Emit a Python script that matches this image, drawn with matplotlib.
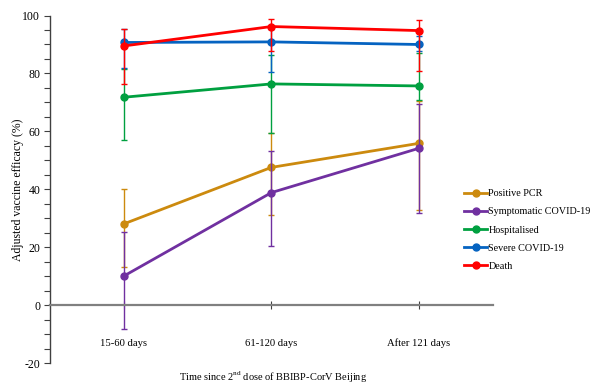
import numpy as np
import matplotlib
matplotlib.use("Agg")
import matplotlib.pyplot as plt
from matplotlib.ticker import MultipleLocator

plt.rcParams["font.family"] = ["Liberation Serif", "DejaVu Serif"]
plt.rcParams["mathtext.fontset"] = "custom"
plt.rcParams["mathtext.rm"] = "Liberation Serif"
plt.rcParams["axes.unicode_minus"] = False

periods = ["15-60 days", "61-120 days", "After 121 days"]

pcr = [28.1, 47.6, 55.9]
pcr_low = [13.2, 31.0, 33.0]
pcr_high = [40.1, 59.5, 70.6]

symptomatic = [10.1, 38.9, 54.2]
symptomatic_low = [-8.2, 20.3, 31.8]
symptomatic_high = [25.4, 53.1, 69.4]

hospitalised = [71.8, 76.4, 75.7]
hospitalised_low = [57.0, 59.4, 71.0]
hospitalised_high = [81.5, 86.4, 87.1]

severe = [90.7, 90.9, 90.0]
severe_low = [81.8, 80.4, 87.6]
severe_high = [95.3, 95.5, 93.0]

death = [89.5, 96.2, 94.8]
death_low = [76.5, 87.9, 80.9]
death_high = [95.4, 98.8, 98.6]

series = [
    ("Positive PCR", pcr, pcr_low, pcr_high, "#CC8A0E"),
    ("Symptomatic COVID-19", symptomatic, symptomatic_low, symptomatic_high, "#7030A0"),
    ("Hospitalised", hospitalised, hospitalised_low, hospitalised_high, "#00A040"),
    ("Severe COVID-19", severe, severe_low, severe_high, "#0563C1"),
    ("Death", death, death_low, death_high, "#FF0000"),
]

fig = plt.figure(figsize=(5.96, 3.85), dpi=100)
ax = fig.add_axes([0.0839, 0.0564, 0.743, 0.9033])

x = np.arange(len(periods))
handles = []
for name, vals, lo, hi, col in series:
    vals = np.array(vals)
    err = [vals - np.array(lo), np.array(hi) - vals]
    ax.errorbar(x, vals, yerr=err, fmt="none", ecolor=col, elinewidth=1.0,
                capsize=2.5, capthick=1.0)
    h, = ax.plot(x, vals, "-o", color=col, linewidth=2.0, markersize=5,
                 label=name)
    handles.append(h)

ax.set_xlim(-0.5, 2.5)
ax.set_ylim(-20, 100)
ax.set_xticks(x)
ax.set_xticklabels(periods)
ax.yaxis.set_major_locator(MultipleLocator(20))
ax.yaxis.set_minor_locator(MultipleLocator(5))
ax.tick_params(axis="y", which="both", direction="out", length=4, width=0.8,
               color="#404040", labelsize=8.5, pad=3)
ax.tick_params(axis="x", direction="inout", length=6, width=0.8,
               color="#404040", labelsize=7.7, pad=21)

for s in ["top", "right"]:
    ax.spines[s].set_visible(False)
ax.spines["left"].set_color("#404040")
ax.spines["left"].set_linewidth(1.0)
ax.spines["bottom"].set_position(("data", 0))
ax.spines["bottom"].set_color("#808080")
ax.spines["bottom"].set_linewidth(1.6)

ax.set_ylabel("Adjusted vaccine efficacy (%)", fontsize=8.5, labelpad=-1)
fig.text(0.458, 0.02, r"Time since 2$^{\rm nd}$ dose of BBIBP-CorV Beijing",
         ha="center", va="center", fontsize=7.5)

ax.legend(handles=handles, loc="upper left", bbox_to_anchor=(0.7784, 0.509),
          bbox_transform=fig.transFigure, frameon=False, fontsize=7.3,
          handlelength=2.3, handletextpad=0.1, labelspacing=0.9,
          borderpad=0, borderaxespad=0)

fig.savefig("out.png", dpi=100)
